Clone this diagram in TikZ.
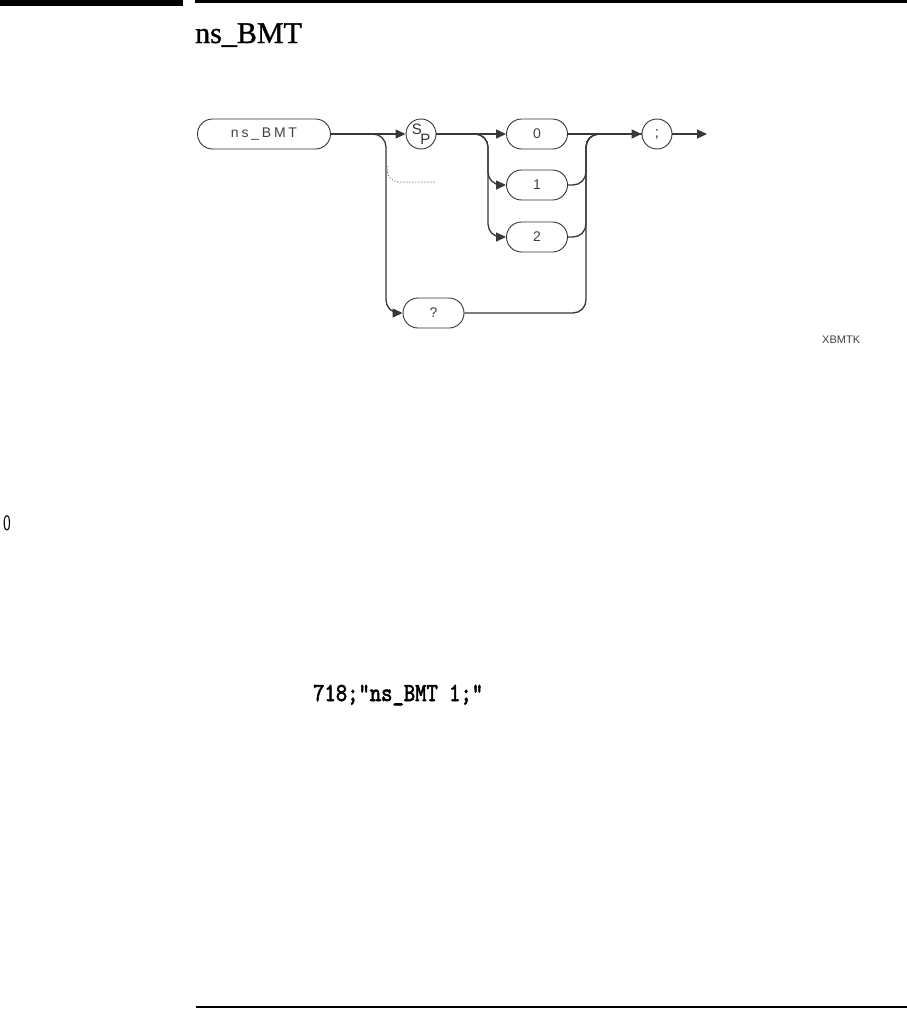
\documentclass[tikz,border=0pt]{standalone}
\usepackage{fontspec}
\usetikzlibrary{arrows.meta}
\newfontfamily\diagfont{Liberation Sans}
\newfontfamily\titlefont{Liberation Serif}[FakeBold=1.2]
\newfontfamily\codefont{lmmono10-regular.otf}[FakeBold=2.5]

\begin{document}
\begin{tikzpicture}[x=1pt,y=-1pt,
  line/.style={draw=black!78,line width=1.3pt,rounded corners=13pt},
  arr/.style={line,-{Triangle[length=10pt,width=9pt]}},
  synbox/.style={draw=black!80,line width=.9pt,rounded corners=15pt,minimum width=61pt,
    minimum height=30pt,inner sep=0pt,font=\diagfont\fontsize{14}{14}\selectfont,text=black!75},
  syncirc/.style={draw=black!80,line width=.9pt,circle,minimum size=30pt,inner sep=0pt,
    font=\diagfont\fontsize{15}{15}\selectfont,text=black!80}]
  \useasboundingbox (0,0) rectangle (907,1009);
  \fill (0,0) rectangle (183,6);
  \draw[line width=3pt] (195,1.5)--(907,1.5);
  \node[anchor=base west,inner sep=0pt,font=\titlefont\fontsize{30}{30}\selectfont] (title) at (195,43) {ns\_BMT};
  \node[synbox,minimum width=133pt] (cmd) at (264,134) {\addfontfeatures{LetterSpace=20}ns\_BMT};
  \node[syncirc] (sp) at (421,134) {\raisebox{4pt}{S}\hspace{-1.5pt}\raisebox{-6pt}{P}};
  \node[synbox] (zero) at (537,134) {0};
  \node[synbox] (one) at (537,185) {1};
  \node[synbox] (two) at (537,237) {2};
  \node[synbox] (qm) at (433.5,313) {?};
  \node[syncirc] (semi) at (657,134) {;};
  \coordinate (qb) at (386,134);
  \coordinate (nb) at (488,134);
  \coordinate (mg) at (586,134);
  \coordinate (out) at (707,134);
  \coordinate (dta) at (387,166);
  \coordinate (dtb) at (435,182);
  \draw[arr] (cmd.east)--(sp.west);
  \draw[arr] (cmd.east)--(qb)|-(qm.west);
  \draw[black!55,dotted,line width=1pt,rounded corners=12pt] (dta)|-(dtb);
  \draw[arr] (sp.east)--(zero.west);
  \draw[arr] (sp.east)--(nb)|-(one.west);
  \draw[arr] (sp.east)--(nb)|-(two.west);
  \draw[arr] (zero.east)--(semi.west);
  \draw[line] (one.east)-|(mg)--(semi.west);
  \draw[line] (two.east)-|(mg)--(semi.west);
  \draw[line] (qm.east)-|(mg)--(semi.west);
  \draw[arr] (semi.east)--(out);
  \node[anchor=base west,inner sep=0pt,font=\diagfont\fontsize{11}{11}\selectfont,text=black!75] (fig) at (822,343) {XBMTK};
  \node[anchor=base west,inner sep=0pt,font=\sffamily\fontsize{22}{22}\selectfont] (zr) at (3,530) {\scalebox{.75}[1]{0}};
  \node[anchor=base west,inner sep=0pt,font=\codefont\fontsize{26}{26}\selectfont] (code) at (313,701) {\scalebox{.83}[1]{718;"ns\_BMT 1;"}};
  \draw[line width=2pt] (196,1007)--(907,1007);
\end{tikzpicture}
\end{document}
